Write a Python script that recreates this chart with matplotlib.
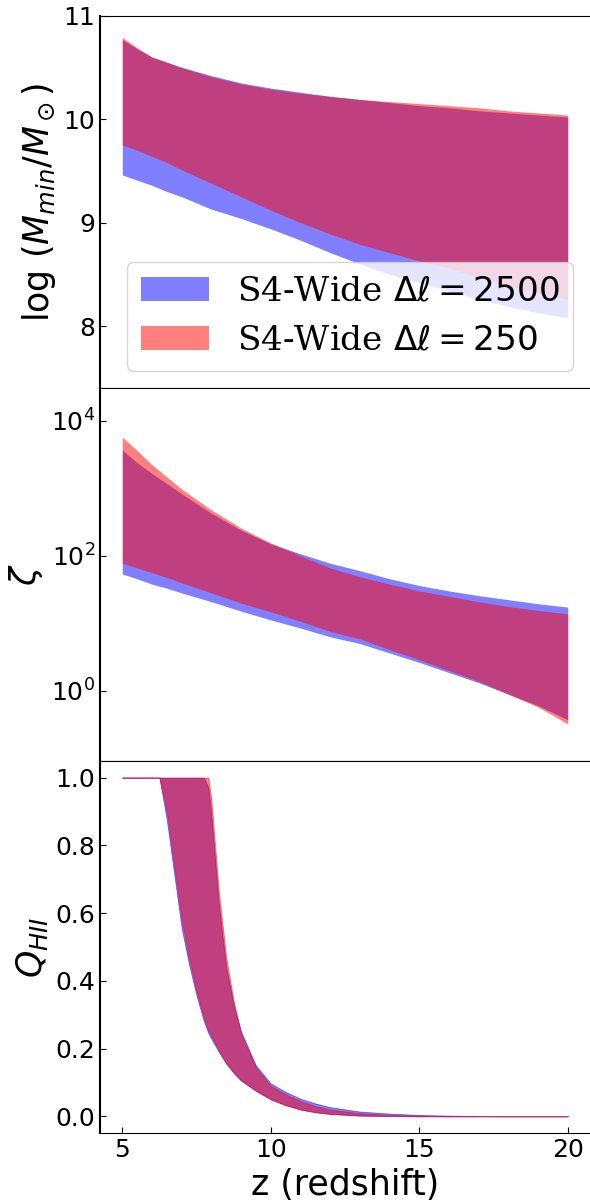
import numpy as np
import matplotlib
matplotlib.use("Agg")
import matplotlib.pyplot as plt

# redshift grid for the top two panels
z = [5, 5.5, 6, 6.5, 7, 8, 9, 10, 11, 12, 13, 14, 15, 16, 17, 18, 19, 20]

# log(Mmin/Msun) bands
mmin_2500_lo = [9.46, 9.41, 9.36, 9.30, 9.25, 9.13, 9.04, 8.94, 8.83, 8.71, 8.60, 8.50, 8.42, 8.34, 8.26, 8.19, 8.13, 8.08]
mmin_2500_hi = [10.77, 10.68, 10.60, 10.55, 10.50, 10.42, 10.35, 10.30, 10.26, 10.22, 10.19, 10.16, 10.13, 10.11, 10.08, 10.06, 10.04, 10.02]
mmin_250_lo = [9.75, 9.70, 9.64, 9.58, 9.51, 9.38, 9.25, 9.12, 9.00, 8.89, 8.79, 8.71, 8.63, 8.56, 8.47, 8.39, 8.32, 8.26]
mmin_250_hi = [10.79, 10.69, 10.60, 10.55, 10.50, 10.41, 10.34, 10.29, 10.25, 10.22, 10.19, 10.17, 10.15, 10.13, 10.11, 10.08, 10.06, 10.04]

# log10(zeta) bands
logzeta_2500_lo = [1.73, 1.66, 1.58, 1.52, 1.45, 1.32, 1.18, 1.05, 0.93, 0.80, 0.70, 0.56, 0.42, 0.27, 0.12, -0.05, -0.22, -0.43]
logzeta_2500_hi = [3.57, 3.38, 3.22, 3.07, 2.92, 2.63, 2.38, 2.18, 2.03, 1.89, 1.78, 1.66, 1.56, 1.48, 1.41, 1.35, 1.29, 1.24]
logzeta_250_lo = [1.89, 1.82, 1.75, 1.68, 1.60, 1.45, 1.30, 1.17, 1.03, 0.88, 0.77, 0.61, 0.46, 0.30, 0.14, -0.05, -0.24, -0.49]
logzeta_250_hi = [3.76, 3.56, 3.35, 3.17, 2.99, 2.68, 2.41, 2.19, 2.00, 1.82, 1.69, 1.58, 1.48, 1.40, 1.32, 1.25, 1.19, 1.14]

# ionized fraction bands (finer grid)
zq = [5, 5.5, 6, 6.25, 6.5, 6.75, 7, 7.25, 7.5, 7.75, 7.9, 8, 8.25, 8.5, 8.75, 9, 9.5, 10,
      10.5, 11, 11.5, 12, 13, 14, 15, 16, 17, 18, 19, 20]
q_2500_lo = [1, 1, 1, 1.0, 0.875, 0.715, 0.555, 0.448, 0.356, 0.28, 0.245, 0.229, 0.19, 0.155, 0.128,
             0.105, 0.075, 0.05, 0.033, 0.02, 0.012, 0.007, 0.002, 0.001, 0, 0, 0, 0, 0, 0]
q_2500_hi = [1, 1, 1, 1, 1, 1, 1, 1, 1, 1, 0.97, 0.89, 0.625, 0.44, 0.33, 0.25, 0.15, 0.097,
             0.072, 0.052, 0.038, 0.027, 0.014, 0.008, 0.004, 0.002, 0.001, 0, 0, 0]
q_250_lo = [1, 1, 1, 1, 0.90, 0.74, 0.58, 0.465, 0.37, 0.29, 0.253, 0.235, 0.195, 0.158, 0.13,
            0.107, 0.076, 0.05, 0.033, 0.02, 0.012, 0.007, 0.002, 0.001, 0, 0, 0, 0, 0, 0]
q_250_hi = [1, 1, 1, 1, 1, 1, 1, 1, 1, 1, 1.0, 0.935, 0.665, 0.47, 0.34, 0.245, 0.145, 0.09,
            0.065, 0.045, 0.03, 0.02, 0.009, 0.004, 0.002, 0, 0, 0, 0, 0]

label_2500 = r"S4-Wide $\Delta\ell = 2500$"
label_250 = r"S4-Wide $\Delta\ell = 250$"

fig, axes = plt.subplots(3, 1, sharex=True, figsize=(5.9, 12.03), dpi=100)
fig.subplots_adjust(left=0.1695, right=1.0, top=0.987, bottom=0.058, hspace=0)
ax1, ax2, ax3 = axes

ax1.fill_between(z, mmin_2500_lo, mmin_2500_hi, color='b', alpha=0.5, lw=0, label=label_2500)
ax1.fill_between(z, mmin_250_lo, mmin_250_hi, color='r', alpha=0.5, lw=0, label=label_250)
ax1.set_ylim(7.4, 11)
ax1.set_yticks([8, 9, 10, 11])
ax1.set_ylabel(r"log $(M_{min}/M_\odot)$", fontsize=25)
ax1.legend(loc='lower right', prop={'family': 'serif', 'size': 24.7})

ax2.fill_between(z, 10**np.array(logzeta_2500_lo), 10**np.array(logzeta_2500_hi), color='b', alpha=0.5, lw=0)
ax2.fill_between(z, 10**np.array(logzeta_250_lo), 10**np.array(logzeta_250_hi), color='r', alpha=0.5, lw=0)
ax2.set_yscale('log')
ax2.set_ylim(0.092, 3.05e4)
ax2.yaxis.set_major_locator(matplotlib.ticker.FixedLocator([1, 1e2, 1e4]))
ax2.yaxis.set_minor_locator(matplotlib.ticker.NullLocator())
ax2.set_ylabel(r"$\zeta$", fontsize=25)

ax3.fill_between(zq, q_2500_lo, q_2500_hi, color='b', alpha=0.5, lw=0.6)
ax3.fill_between(zq, q_250_lo, q_250_hi, color='r', alpha=0.5, lw=0.6)
ax3.set_ylim(-0.05, 1.05)
ax3.set_ylabel(r"$Q_{HII}$", fontsize=25)
ax3.set_xlim(4.25, 20.75)
ax3.set_xticks([5, 10, 15, 20])
ax3.set_xlabel("z (redshift)", fontsize=25)

for ax in axes:
    ax.tick_params(direction='in', labelsize=18, length=4.5)
    ax.spines['left'].set_linewidth(1.5)
    ax.spines['right'].set_visible(False)
for ax in (ax1, ax2):
    ax.tick_params(axis='x', bottom=False)

plt.savefig('out.png', dpi=100)
